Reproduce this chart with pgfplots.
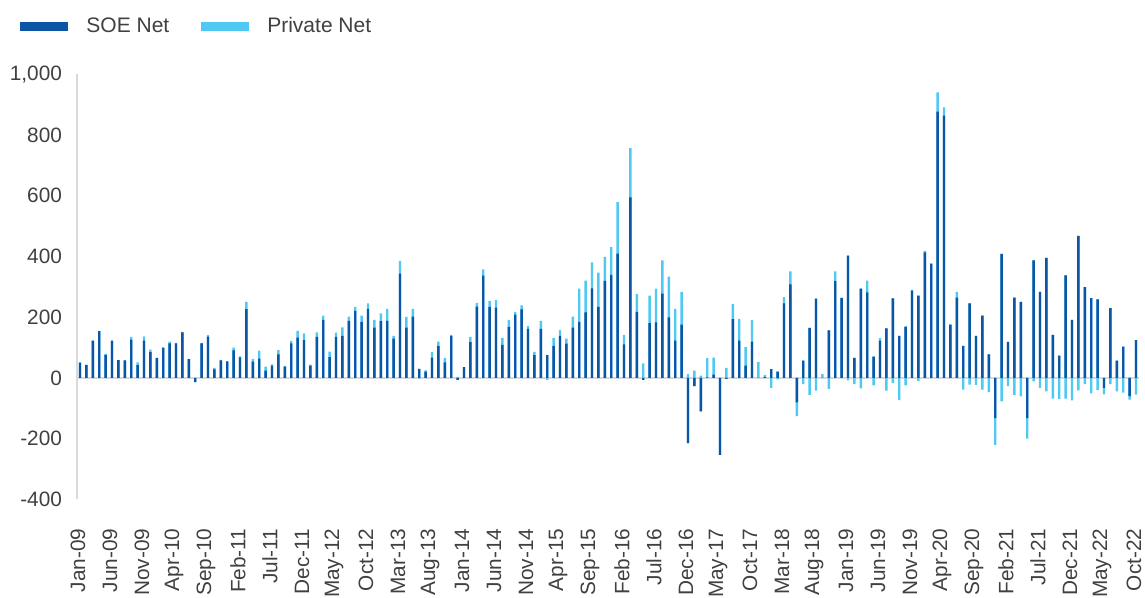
\documentclass[border=0pt]{standalone}
\usepackage{fontspec}
\setmainfont{Liberation Sans}
\usepackage{pgfplots}
\usepackage{pgfplotstable}
\pgfplotsset{compat=1.18}
\definecolor{soe}{HTML}{0C54A4}
\definecolor{prv}{HTML}{4FC9F2}
\definecolor{txt}{HTML}{404040}
\definecolor{axg}{HTML}{D9D9D9}
\pgfplotstableread{
soe prv
50 2
42 2
123 0
154 0
76 3
123 0
59 0
58 0
126 9
42 9
123 14
85 8
65 2
98 4
114 6
114 2
150 2
62 0
-14 0
114 2
136 6
28 5
58 2
55 0
91 9
68 3
227 24
54 9
64 26
24 13
41 4
78 14
37 3
114 8
133 22
125 22
41 3
135 15
191 14
69 18
135 14
139 28
188 14
221 13
185 20
228 18
166 25
187 26
188 40
130 9
344 42
166 35
202 26
30 -2
21 4
67 19
105 15
51 15
139 3
-6 4
36 0
118 17
235 12
337 21
234 20
232 25
109 23
168 23
209 8
226 13
162 9
75 11
162 26
75 -6
106 26
139 19
113 17
166 36
185 109
216 105
295 86
234 113
320 79
340 91
410 169
111 31
595 162
218 58
-6 48
181 90
183 111
278 109
200 134
123 105
176 108
-215 13
-27 24
-110 8
2 63
11 56
-253 0
-3 33
194 49
123 72
41 61
120 71
0 52
4 6
29 -33
21 -5
246 20
308 43
-80 -46
57 -20
165 -56
261 -42
0 13
157 -36
319 32
263 2
403 -8
66 -20
294 -34
282 39
70 -24
123 8
163 -42
262 -17
139 -73
169 -24
288 2
271 -10
414 5
377 0
877 64
864 27
174 4
265 19
106 -38
246 -22
139 -23
205 -38
78 -47
-132 -88
409 -77
119 -27
265 -56
251 -61
-132 -68
387 -11
284 -33
396 -44
142 -68
74 -69
338 -68
191 -74
468 -41
299 -20
263 -51
259 -40
-33 -21
230 -20
57 -44
103 -48
-60 -11
125 -55
}\data
\begin{document}
\begin{tikzpicture}
\useasboundingbox (0,0) rectangle (572.5pt,299pt);
\clip (0,0) rectangle (572.5pt,299pt);
\begin{axis}[
  at={(38.4pt,49.3pt)}, anchor=south west,
  scale only axis, width=531.2pt, height=212.5pt,
  xmin=-0.5, xmax=165.5, ymin=-400, ymax=1000,
  ybar, bar width=1.2pt, bar shift=0pt,
  axis line style={draw=none},
  tick style={draw=none},
  ytick={-400,-200,...,1000},
  yticklabels={-400,-200,0,200,400,600,800,{1,000}},
  xtick={0,5,...,165},
  xticklabels={Jan-09,Jun-09,Nov-09,Apr-10,Sep-10,Feb-11,Jul-11,Dec-11,May-12,Oct-12,Mar-13,Aug-13,Jan-14,Jun-14,Nov-14,Apr-15,Sep-15,Feb-16,Jul-16,Dec-16,May-17,Oct-17,Mar-18,Aug-18,Jan-19,Jun-19,Nov-19,Apr-20,Sep-20,Feb-21,Jul-21,Dec-21,May-22,Oct-22},
  ticklabel style={font=\fontsize{10.4}{12}\selectfont, text=txt},
  xticklabel style={xshift=-1pt, rotate=90, anchor=east},
  xticklabel shift=6.8pt,
  yticklabel shift=3.9pt,
  clip=false,
  legend style={at={(axis description cs:-0.0534,1.1127)}, anchor=west, draw=none, fill=none, inner sep=0pt,
    font=\fontsize{10.5}{12}\selectfont, text=txt,
    /tikz/every even column/.append style={column sep=14pt}},
  legend columns=2,
  legend cell align=left,
  legend image code/.code={\fill[#1] (0pt,-2.25pt) rectangle (24pt,2.25pt); \path (31pt,0pt);},
]
\draw[axg, line width=0.8pt] (axis cs:-0.5,0) -- (axis cs:165.5,0);
\draw[axg, line width=0.8pt] (axis cs:-0.5,-400) -- (axis cs:-0.5,1000);
\addlegendimage{fill=soe, draw=none}
\addlegendentry{SOE Net}
\addlegendimage{fill=prv, draw=none}
\addlegendentry{Private Net}
\addplot[fill=prv, draw=none, forget plot] table[x expr=\coordindex, y expr={max(\thisrow{soe},0)+max(\thisrow{prv},0)}] {\data};
\addplot[fill=prv, draw=none, forget plot] table[x expr=\coordindex, y expr={min(\thisrow{soe},0)+min(\thisrow{prv},0)}] {\data};
\addplot[fill=soe, draw=none, forget plot] table[x expr=\coordindex, y=soe] {\data};
\end{axis}
\end{tikzpicture}
\end{document}
